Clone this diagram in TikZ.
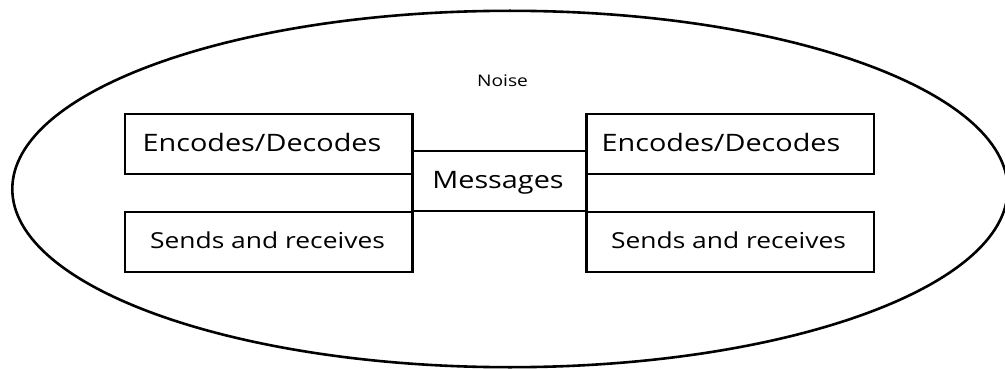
\documentclass[tikz,border=0pt]{standalone}
\usepackage{fontspec}
\setmainfont{Open Sans}
\usetikzlibrary{shapes.geometric}
% labels are set slightly wide
\newcommand{\widetext}[1]{\scalebox{1.2}[1]{#1}}
\begin{document}
\begin{tikzpicture}[x=1pt,y=-1pt,
  roleblock/.style={draw, line width=2.2pt, rectangle, inner sep=0pt,
    minimum width=287pt, minimum height=60pt, anchor=north west},
  msgblock/.style={draw, line width=2.2pt, rectangle, inner sep=0pt,
    minimum width=175pt, minimum height=60pt, anchor=north west},
  bigtext/.style={font=\fontsize{24}{28}\selectfont, inner sep=0pt, anchor=base},
  midtext/.style={font=\fontsize{22}{26}\selectfont, inner sep=0pt, anchor=base},
  smalltext/.style={font=\fontsize{16}{19}\selectfont, inner sep=0pt, anchor=base}]
\useasboundingbox (0,0) rectangle (1005,369);
% surrounding environment (runs slightly past the right edge)
\node[draw, ellipse, line width=2.6pt, inner sep=0pt,
      minimum width=995.4pt, minimum height=356.4pt] (env) at (510,189) {};
\node[smalltext] (noise) at (502.5,87) {\widetext{Noise}};
% message channel between the two parties
\node[msgblock] (msg) at (411,150) {};
\node[bigtext] (msgtxt) at (498,188) {\widetext{Messages}};
% left party
\node[roleblock] (encL) at (124,113) {};
\node[roleblock] (sndL) at (124,211) {};
% right party
\node[roleblock] (encR) at (586,113) {};
\node[roleblock] (sndR) at (586,211) {};
% connecting verticals alongside the channel
\draw[line width=2.2pt] (encL.north east) -- (sndL.south east);
\draw[line width=2.2pt] (encR.north west) -- (sndR.south west);
% labels
\node[bigtext] (encLtxt) at (262,151) {\widetext{Encodes/Decodes}};
\node[bigtext] (encRtxt) at (721,151) {\widetext{Encodes/Decodes}};
\node[midtext] (sndLtxt) at (267.5,248) {\widetext{Sends and receives}};
\node[midtext] (sndRtxt) at (728.5,248) {\widetext{Sends and receives}};
\end{tikzpicture}
\end{document}
